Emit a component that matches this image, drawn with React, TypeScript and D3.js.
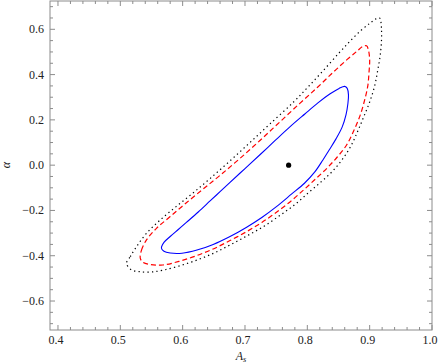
import React from "react";
import * as d3 from "d3";

// contour data: [A_s, alpha]
const contour1: [number, number][] = [
  [0.566, -0.367], [0.570, -0.341], [0.580, -0.315], [0.593, -0.284], [0.606, -0.253],
  [0.625, -0.207], [0.644, -0.158], [0.660, -0.117], [0.676, -0.076], [0.700, -0.015],
  [0.724, 0.046], [0.748, 0.108], [0.772, 0.169], [0.796, 0.226], [0.817, 0.275],
  [0.836, 0.314], [0.851, 0.339], [0.860, 0.348],
  [0.864, 0.339], [0.866, 0.310], [0.865, 0.270], [0.862, 0.222], [0.856, 0.169],
  [0.846, 0.116], [0.835, 0.067], [0.825, 0.023], [0.812, -0.030], [0.795, -0.081],
  [0.775, -0.127], [0.751, -0.182], [0.727, -0.231], [0.702, -0.275], [0.676, -0.315],
  [0.649, -0.350], [0.623, -0.375], [0.599, -0.389], [0.580, -0.388], [0.570, -0.380],
];
const contour2: [number, number][] = [
  [0.532, -0.411], [0.534, -0.375], [0.542, -0.330], [0.558, -0.279], [0.580, -0.227],
  [0.606, -0.166], [0.633, -0.105], [0.660, -0.045], [0.692, 0.030], [0.724, 0.109],
  [0.756, 0.191], [0.788, 0.273], [0.816, 0.343], [0.841, 0.409], [0.864, 0.467],
  [0.880, 0.504], [0.889, 0.524], [0.895, 0.527],
  [0.898, 0.509], [0.900, 0.465], [0.899, 0.412], [0.897, 0.350], [0.892, 0.288],
  [0.885, 0.222], [0.875, 0.155], [0.863, 0.089], [0.848, 0.036], [0.832, -0.012],
  [0.814, -0.059], [0.795, -0.107], [0.774, -0.158], [0.751, -0.207], [0.727, -0.253],
  [0.703, -0.293], [0.676, -0.333], [0.649, -0.370], [0.621, -0.401], [0.594, -0.425],
  [0.568, -0.441], [0.548, -0.439], [0.536, -0.428],
];
const contour3: [number, number][] = [
  [0.510, -0.433], [0.516, -0.404], [0.526, -0.360], [0.542, -0.301], [0.564, -0.242],
  [0.590, -0.182], [0.617, -0.122], [0.644, -0.059], [0.676, 0.019], [0.708, 0.100],
  [0.740, 0.182], [0.778, 0.279], [0.801, 0.345], [0.825, 0.416], [0.851, 0.496],
  [0.868, 0.546], [0.886, 0.595], [0.901, 0.628], [0.910, 0.646], [0.916, 0.650],
  [0.918, 0.633], [0.919, 0.597], [0.919, 0.553], [0.917, 0.487], [0.913, 0.420],
  [0.908, 0.350], [0.900, 0.279], [0.891, 0.217], [0.881, 0.151], [0.870, 0.085],
  [0.856, 0.025], [0.840, -0.028], [0.822, -0.074], [0.802, -0.121], [0.780, -0.174],
  [0.756, -0.222], [0.731, -0.269], [0.706, -0.308], [0.679, -0.348], [0.652, -0.386],
  [0.625, -0.417], [0.597, -0.443], [0.570, -0.463], [0.549, -0.472], [0.530, -0.470],
  [0.517, -0.461],
];
const bestFit: [number, number] = [0.77, 0.0];

const xMajor = [0.4, 0.5, 0.6, 0.7, 0.8, 0.9, 1.0];
const xMajorLabels = ["0.4", "0.5", "0.6", "0.7", "0.8", "0.9", "1.0"];
const yMajor = [-0.6, -0.4, -0.2, 0.0, 0.2, 0.4, 0.6];
const yMajorLabels = ["\u22120.6", "\u22120.4", "\u22120.2", "0.0", "0.2", "0.4", "0.6"];
const xMinorStep = 0.02;
const yMinorStep = 0.05;

const W = 441;
const H = 364;
const L = 50, R = 432, T = 1, B = 330;

export default function App() {
  const x = d3.scaleLinear().domain([0.3872, 1.0]).range([L, R]);
  const y = d3.scaleLinear().domain([-0.728, 0.725]).range([B, T]);

  const line = d3
    .line<[number, number]>()
    .x((d) => x(d[0]))
    .y((d) => y(d[1]))
    .curve(d3.curveCatmullRomClosed.alpha(0.5));

  const xMinor: number[] = [];
  for (let i = 0; i <= 40; i++) {
    const v = 0.38 + i * xMinorStep;
    if (v >= 0.3872 && v <= 1.0001 && !xMajor.some((m) => Math.abs(m - v) < 1e-6)) xMinor.push(v);
  }
  const yMinor: number[] = [];
  for (let i = 0; i <= 40; i++) {
    const v = -0.75 + i * yMinorStep;
    if (v >= -0.728 && v <= 0.725 && !yMajor.some((m) => Math.abs(m - v) < 1e-6)) yMinor.push(v);
  }

  const frameColor = "#8c8c8c";
  const major = 5;
  const minor = 3;
  const font = "'Liberation Serif', 'Times New Roman', serif";

  return (
    <svg
      width={W}
      height={H}
      style={{ position: "absolute", left: 0, top: 0, background: "#fff" }}
      fontFamily={font}
    >
      <rect x={0} y={0} width={W} height={H} fill="#fff" />
      {/* contours */}
      <path d={line(contour3) || ""} fill="none" stroke="#000" strokeWidth={1.2} strokeDasharray="1.3,3.2" />
      <path d={line(contour2) || ""} fill="none" stroke="#ff0000" strokeWidth={1.2} strokeDasharray="5,3" />
      <path d={line(contour1) || ""} fill="none" stroke="#0000ff" strokeWidth={1.1} />
      <circle cx={x(bestFit[0])} cy={y(bestFit[1])} r={2.6} fill="#000" />

      {/* frame */}
      <rect x={L} y={T} width={R - L} height={B - T} fill="none" stroke={frameColor} strokeWidth={1} />

      {/* x ticks */}
      {xMajor.map((v) => (
        <g key={"xM" + v} stroke={frameColor}>
          <line x1={x(v)} x2={x(v)} y1={B} y2={B - major} />
          <line x1={x(v)} x2={x(v)} y1={T} y2={T + major} />
        </g>
      ))}
      {xMinor.map((v) => (
        <g key={"xm" + v} stroke={frameColor}>
          <line x1={x(v)} x2={x(v)} y1={B} y2={B - minor} />
          <line x1={x(v)} x2={x(v)} y1={T} y2={T + minor} />
        </g>
      ))}
      {/* y ticks */}
      {yMajor.map((v) => (
        <g key={"yM" + v} stroke={frameColor}>
          <line x1={L} x2={L + major} y1={y(v)} y2={y(v)} />
          <line x1={R} x2={R - major} y1={y(v)} y2={y(v)} />
        </g>
      ))}
      {yMinor.map((v) => (
        <g key={"ym" + v} stroke={frameColor}>
          <line x1={L} x2={L + minor} y1={y(v)} y2={y(v)} />
          <line x1={R} x2={R - minor} y1={y(v)} y2={y(v)} />
        </g>
      ))}

      {/* tick labels */}
      {xMajor.map((v, i) => (
        <text key={"xl" + v} x={x(v) - 2} y={344} fontSize={12} textAnchor="middle" fill="#222">
          {xMajorLabels[i]}
        </text>
      ))}
      {yMajor.map((v, i) => (
        <text key={"yl" + v} x={44} y={y(v) + 4} fontSize={12} textAnchor="end" fill="#222">
          {yMajorLabels[i]}
        </text>
      ))}

      {/* axis titles */}
      <text x={241} y={360} fontSize={12} fontStyle="italic" textAnchor="middle" fill="#222">
        A<tspan fontSize={8.5} dy={2}>s</tspan>
      </text>
      <text
        transform={`translate(10,${y(0)}) rotate(-90)`}
        fontSize={12}
        fontStyle="italic"
        textAnchor="middle"
        fill="#222"
      >
        α
      </text>
    </svg>
  );
}
